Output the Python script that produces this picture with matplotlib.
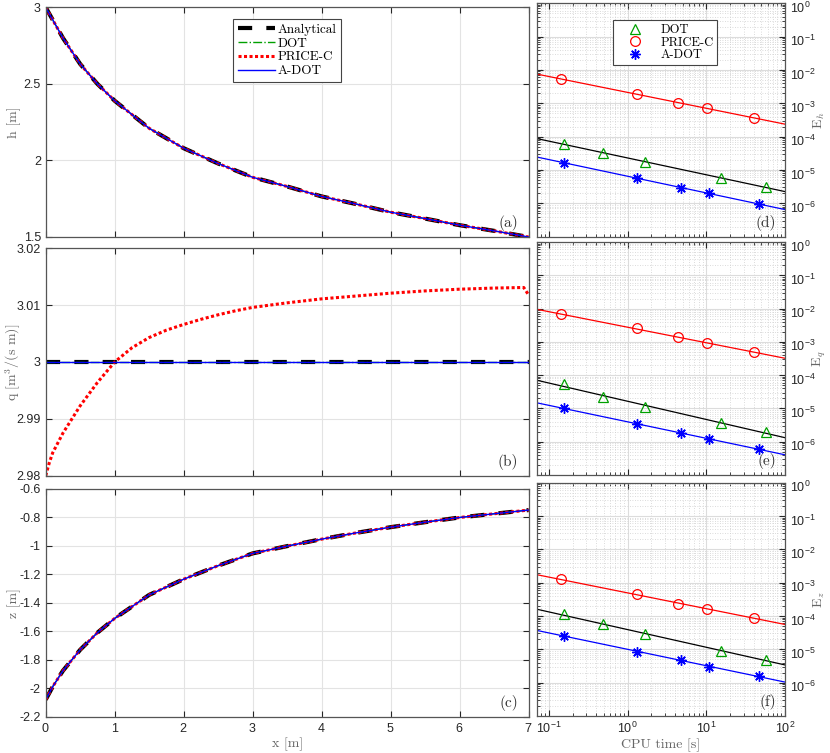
import numpy as np
import matplotlib
matplotlib.use("Agg")
import matplotlib.pyplot as plt
import matplotlib.transforms as mtransforms
from matplotlib.ticker import FuncFormatter, LogLocator, NullFormatter

plt.rcParams["font.family"] = ["Liberation Sans", "DejaVu Sans"]
plt.rcParams["mathtext.fontset"] = "cm"
plt.rcParams["axes.formatter.use_mathtext"] = True

# ─── data ─────────────────────────────────────────────────────────────────────
x_pos   = [0.0, 0.1, 0.25, 0.5, 0.75, 1.0, 1.5, 2.0, 2.5, 3.0, 3.5, 4.0, 4.5,
           5.0, 5.5, 6.0, 6.5, 7.0]
h_prof  = [3.00, 2.92, 2.80, 2.63, 2.50, 2.39, 2.21, 2.08, 1.98, 1.89, 1.83,
           1.765, 1.715, 1.662, 1.62, 1.577, 1.54, 1.50]
z_prof  = [-2.08, -1.99, -1.877, -1.73, -1.61, -1.51, -1.345, -1.235, -1.14,
           -1.054, -1.003, -0.954, -0.91, -0.87, -0.835, -0.802, -0.776, -0.75]
q_exact = [3.0] * len(x_pos)

x_qpc   = [0.0, 0.05, 0.1, 0.25, 0.5, 0.75, 1.0, 1.25, 1.5, 1.75, 2.0, 2.25,
           2.5, 2.75, 3.0, 3.5, 4.0, 4.5, 5.0, 5.5, 6.0, 6.5, 6.93, 7.0]
q_pc    = [2.9800, 2.9822, 2.9840, 2.9875, 2.9923, 2.9964, 3.0000, 3.0025,
           3.0043, 3.0056, 3.0066, 3.0075, 3.0083, 3.0090, 3.0096, 3.0104,
           3.0111, 3.0116, 3.0121, 3.0125, 3.0128, 3.0130, 3.0131, 3.0118]

# CPU time [s] per run
cpu_dot  = [0.156, 0.49, 1.66, 15.2, 57.2]
cpu_pc   = [0.141, 1.31, 4.40, 10.1, 40.3]
cpu_adot = [0.156, 1.32, 4.71, 10.9, 46.2]

# errors: h, q, z
Eh_dot  = [6.1e-5, 3.2e-5, 1.72e-5, 5.8e-6, 3.04e-6]
Eh_pc   = [5.3e-3, 1.91e-3, 1.03e-3, 7.3e-4, 3.55e-4]
Eh_adot = [1.64e-5, 5.8e-6, 2.84e-6, 2.01e-6, 9.6e-7]

Eq_dot  = [5.3e-5, 2.16e-5, 1.13e-5, 3.67e-6, 1.92e-6]
Eq_pc   = [6.7e-3, 2.55e-3, 1.37e-3, 9.3e-4, 4.86e-4]
Eq_adot = [1.01e-5, 3.43e-6, 1.8e-6, 1.19e-6, 6.1e-7]

Ez_dot  = [1.12e-4, 5.6e-5, 2.8e-5, 9.1e-6, 4.8e-6]
Ez_pc   = [1.26e-3, 4.5e-4, 2.34e-4, 1.62e-4, 8.9e-5]
Ez_adot = [2.57e-5, 8.5e-6, 4.7e-6, 3.0e-6, 1.58e-6]

GREEN = "#00a000"
SERIF = "cmr10"
EDGE  = "#555555"
LBL   = "#666666"

fig = plt.figure(figsize=(8.30, 7.53), dpi=100)

left_rects  = [(0.0551, 0.6853, 0.5817, 0.3048),
               (0.0551, 0.3683, 0.5817, 0.3020),
               (0.0551, 0.0482, 0.5817, 0.3028)]
right_rects = [(0.6466, 0.6857, 0.2992, 0.3100),
               (0.6466, 0.3692, 0.2992, 0.3094),
               (0.6466, 0.0491, 0.2992, 0.3098)]

gfmt = FuncFormatter(lambda v, p: f"{v:g}")


def style_left(ax):
    ax.set_xlim(0, 7)
    ax.set_xticks(range(8))
    ax.grid(True, color="#e3e3e3", lw=0.8)
    ax.set_axisbelow(True)
    ax.tick_params(direction="in", top=True, right=True, length=4,
                   labelsize=9, colors="#262626")
    ax.yaxis.set_major_formatter(gfmt)
    ax.yaxis.label.set_va("center")
    ax.yaxis.set_label_coords(-0.066, 0.5)
    for s in ax.spines.values():
        s.set_color(EDGE)
        s.set_linewidth(0.9)


def left_lines(ax, x, yref, xpc, ypc):
    ax.plot(x, yref, color="k", lw=3.0, ls=(0, (3.4, 3.4)), label="Analytical")
    ax.plot(x, yref, color=GREEN, lw=1.0, ls="-.", label="DOT")
    ax.plot(xpc, ypc, color="red", lw=2.2, ls=(0, (1, 0.8)), label="PRICE-C")
    ax.plot(x, yref, color="blue", lw=1.0, label="A-DOT")


# ─── left column: profiles ────────────────────────────────────────────────────
ax_a = fig.add_axes(left_rects[0])
left_lines(ax_a, x_pos, h_prof, x_pos, h_prof)
ax_a.set_ylim(1.5, 3)
ax_a.set_yticks([1.5, 2, 2.5, 3])
ax_a.set_ylabel("h [m]", family=SERIF, fontsize=10, color=LBL)
style_left(ax_a)
ax_a.tick_params(labelbottom=False)
leg = ax_a.legend(loc="upper left", bbox_to_anchor=(0.388, 0.95), borderaxespad=0,
                  fancybox=False, framealpha=1, edgecolor="#444444",
                  handlelength=2.8, borderpad=0.35, labelspacing=0.12,
                  handletextpad=0.25, prop={"family": SERIF, "size": 9.5})
leg.get_frame().set_linewidth(0.8)

ax_b = fig.add_axes(left_rects[1])
left_lines(ax_b, x_pos, q_exact, x_qpc, q_pc)
ax_b.set_ylim(2.98, 3.02)
ax_b.set_yticks([2.98, 2.99, 3.0, 3.01, 3.02])
ax_b.set_ylabel(r"q [m$^3$/(s m)]", family=SERIF, fontsize=10, color=LBL)
style_left(ax_b)
ax_b.tick_params(labelbottom=False)

ax_c = fig.add_axes(left_rects[2])
left_lines(ax_c, x_pos, z_prof, x_pos, z_prof)
ax_c.set_ylim(-2.2, -0.6)
ax_c.set_yticks(np.arange(-2.2, -0.59, 0.2))
ax_c.set_xlabel("x [m]", family=SERIF, fontsize=10, color=LBL, labelpad=2)
ax_c.set_ylabel("z [m]", family=SERIF, fontsize=10, color=LBL)
style_left(ax_c)

for ax, tag in zip([ax_a, ax_b, ax_c], ["(a)", "(b)", "(c)"]):
    ax.text(0.978, 0.025, tag, transform=ax.transAxes, ha="right", va="bottom",
            family=SERIF, fontsize=11, color="#333333")

# ─── right column: error vs CPU time ─────────────────────────────────────────
XLIM = (0.07, 100)
err_sets = [(Eh_dot, Eh_pc, Eh_adot, r"E$_h$", "(d)"),
            (Eq_dot, Eq_pc, Eq_adot, r"E$_q$", "(e)"),
            (Ez_dot, Ez_pc, Ez_adot, r"E$_z$", "(f)")]
xfit = np.array(XLIM)
shift_down = mtransforms.ScaledTranslation(0, -2.5 / 72, fig.dpi_scale_trans)

for i, (rect, (e_dot, e_pc, e_adot, ylab, tag)) in enumerate(zip(right_rects, err_sets)):
    ax = fig.add_axes(rect)
    ax.set_xscale("log")
    ax.set_yscale("log")

    # power-law fits (straight lines in log-log)
    for t, e, c in [(cpu_dot, e_dot, "k"), (cpu_pc, e_pc, "red"), (cpu_adot, e_adot, "blue")]:
        p = np.polyfit(np.log10(t), np.log10(e), 1)
        ax.plot(xfit, 10 ** np.polyval(p, np.log10(xfit)), color=c, lw=0.9)

    ax.plot(cpu_dot, e_dot, ls="none", marker="^", ms=7.5, mfc="none",
            mec=GREEN, mew=0.9, label="DOT")
    ax.plot(cpu_pc, e_pc, ls="none", marker="o", ms=7, mfc="none",
            mec="red", mew=0.9, label="PRICE-C")
    ax.plot(cpu_adot, e_adot, ls="none", marker=(8, 2, 0), ms=7.5,
            mec="blue", mew=1.0, label="A-DOT")

    ax.set_xlim(*XLIM)
    ax.set_ylim(1e-7, 1)
    ax.set_yticks([1e-6, 1e-5, 1e-4, 1e-3, 1e-2, 1e-1, 1])
    ax.yaxis.set_minor_locator(LogLocator(base=10, subs=np.arange(2, 10), numticks=20))
    ax.yaxis.set_minor_formatter(NullFormatter())
    ax.set_xticks([0.1, 1, 10, 100])
    ax.xaxis.set_minor_locator(LogLocator(base=10, subs=np.arange(2, 10), numticks=20))
    ax.xaxis.set_minor_formatter(NullFormatter())
    ax.grid(True, which="major", color="#dcdcdc", lw=0.8)
    ax.grid(True, which="minor", color="#cfcfcf", lw=0.6, ls=(0, (1, 2)))
    ax.set_axisbelow(True)
    ax.tick_params(which="both", direction="in", top=True, left=True, right=True,
                   labelleft=False, labelright=True, labelsize=9, colors="#262626")
    ax.tick_params(which="major", length=4)
    ax.tick_params(which="minor", length=2)
    ax.yaxis.set_label_position("right")
    ax.set_ylabel(ylab, family=SERIF, fontsize=10, color=LBL, rotation=90,
                  ha="center", va="center")
    ax.yaxis.set_label_coords(1.14, 0.5)
    for s in ax.spines.values():
        s.set_color(EDGE)
        s.set_linewidth(0.9)
    ax.text(0.964, 0.025, tag, transform=ax.transAxes, ha="right", va="bottom",
            family=SERIF, fontsize=11, color="#333333")

    if i < 2:
        ax.tick_params(labelbottom=False)
    else:
        ax.set_xlabel("CPU time [s]", family=SERIF, fontsize=10, color=LBL, labelpad=2)
    if i == 0:
        lg = ax.legend(loc="upper left", bbox_to_anchor=(0.306, 0.928), borderaxespad=0,
                       fancybox=False, framealpha=1, edgecolor="#444444", numpoints=1,
                       handlelength=3.0, borderpad=0.3, labelspacing=0.05,
                       handletextpad=0.5, prop={"family": SERIF, "size": 9})
        lg.get_frame().set_linewidth(0.8)

    # keep the top "10^0" label inside the picture, as in the original
    for t in ax.yaxis.get_major_ticks():
        t.label2.set_transform(t.label2.get_transform() + shift_down)

fig.savefig("out.png", dpi=100)
